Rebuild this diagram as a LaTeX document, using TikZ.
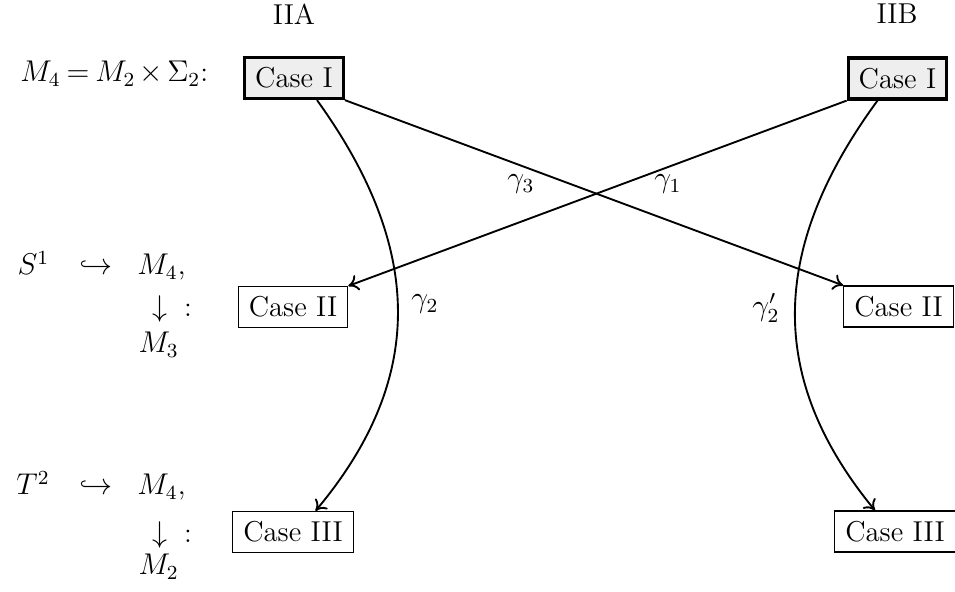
\documentclass[tikz,border=0pt]{standalone}
\usetikzlibrary{arrows.meta}
\begin{document}
\begin{tikzpicture}[x=0.4pt,y=-0.4pt,font=\fontsize{11.5}{14}\selectfont,
  casebox/.style={draw,line width=0.45pt,inner xsep=4.2pt,inner ysep=0pt,minimum height=16.4pt},
  caseone/.style={casebox,line width=1.3pt,fill=gray!13},
  conn/.style={line width=0.75pt,-{To[length=4pt,width=6.5pt]}},
  lbl/.style={inner sep=0pt}]
\useasboundingbox (0,0) rectangle (955,592);
% headers
\node[lbl] (hA) at (294,14) {IIA};
\node[lbl] (hB) at (897,14) {IIB};
% left column
\node[lbl,anchor=base west] (top) at (20,82) {\thickmuskip=3.5mu\medmuskip=2.5mu$M_4=M_2\times\Sigma_2$:};
\node[lbl,anchor=base west] (s1) at (17,275) {$S^1$};
\node[lbl,anchor=base] (h1) at (96,275) {$\hookrightarrow$};
\node[lbl,anchor=base west] (m41) at (137,275) {$M_4$,};
\node[lbl] (d1) at (160,309) {$\downarrow$};
\node[lbl] (c1) at (188,310) {:};
\node[lbl,anchor=base west] (m3) at (138,353) {$M_3$};
\node[lbl,anchor=base west] (t2) at (16,495) {$T^2$};
\node[lbl,anchor=base] (h2) at (96,495) {$\hookrightarrow$};
\node[lbl,anchor=base west] (m42) at (137,495) {$M_4$,};
\node[lbl] (d2) at (160,535) {$\downarrow$};
\node[lbl] (c2) at (188,536) {:};
\node[lbl,anchor=base west] (m2) at (138,575) {$M_2$};
% case boxes
\node[caseone] (c1A) at (294,78) {Case I};
\node[caseone] (c1B) at (897.5,78.5) {Case I};
\node[casebox] (c2A) at (293,307) {Case II};
\node[casebox] (c2B) at (898.5,306.5) {Case II};
\node[casebox] (c3A) at (293,532) {Case III};
\node[casebox] (c3B) at (895,531.5) {Case III};
% connectors
\draw[conn] (c1A.south east) -- (c2B.north west);
\draw[conn] (c1B.south west) -- (c2A.north east);
\draw[conn] ([xshift=9.2pt]c1A.south) .. controls (425,250) and (425,380) .. ([xshift=9pt]c3A.north);
\draw[conn] ([xshift=-8pt]c1B.south) .. controls (768,250) and (768,380) .. ([xshift=-8pt]c3B.north);
% labels
\node[lbl] (g3) at (521,184) {$\gamma_3$};
\node[lbl] (g1) at (668,184) {$\gamma_1$};
\node[lbl] (g2) at (425,304) {$\gamma_2$};
\node[lbl] (g2p) at (766,308) {$\gamma_2'$};
\end{tikzpicture}
\end{document}
